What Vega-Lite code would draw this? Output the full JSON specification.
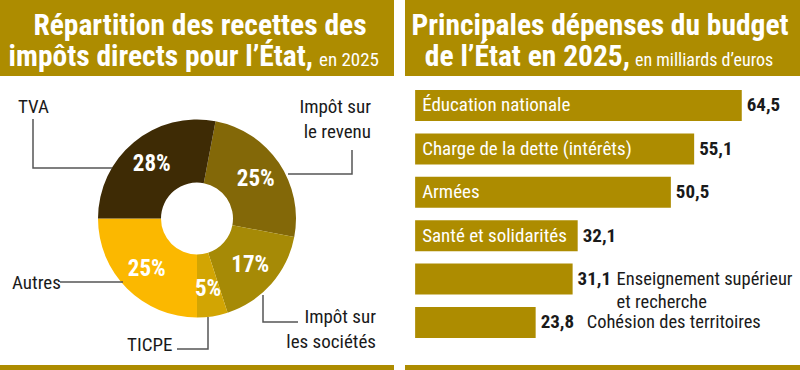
{
  "$schema": "https://vega.github.io/schema/vega-lite/v6.json",
  "padding": 0,
  "background": "white",
  "spacing": 11,
  "config": {
    "view": {"stroke": null},
    "font": "'Roboto Condensed', Roboto, sans-serif",
    "locale": {"number": {"decimal": ",", "thousands": " ", "grouping": [3], "currency": ["", " €"]}},
    "concat": {"spacing": 0}
  },
  "datasets": {
    "impots": [
      {"impot": "Impôt sur le revenu", "part": 0.25, "rang": 1},
      {"impot": "Impôt sur les sociétés", "part": 0.17, "rang": 2},
      {"impot": "TICPE", "part": 0.05, "rang": 3},
      {"impot": "Autres", "part": 0.25, "rang": 4},
      {"impot": "TVA", "part": 0.28, "rang": 5}
    ],
    "reperes": [
      {"impot": "TVA", "point": 1, "px": 33, "py": 43},
      {"impot": "TVA", "point": 2, "px": 33, "py": 92},
      {"impot": "TVA", "point": 3, "px": 112, "py": 92},
      {"impot": "Impôt sur le revenu", "point": 1, "px": 352, "py": 74},
      {"impot": "Impôt sur le revenu", "point": 2, "px": 352, "py": 98},
      {"impot": "Impôt sur le revenu", "point": 3, "px": 288, "py": 98},
      {"impot": "Impôt sur les sociétés", "point": 1, "px": 263, "py": 219},
      {"impot": "Impôt sur les sociétés", "point": 2, "px": 263, "py": 246},
      {"impot": "Impôt sur les sociétés", "point": 3, "px": 298, "py": 246},
      {"impot": "TICPE", "point": 1, "px": 208, "py": 241},
      {"impot": "TICPE", "point": 2, "px": 208, "py": 273},
      {"impot": "TICPE", "point": 3, "px": 177, "py": 273},
      {"impot": "Autres", "point": 1, "px": 60, "py": 206},
      {"impot": "Autres", "point": 2, "px": 123, "py": 206}
    ],
    "etiquettes_gauche": [
      {"texte": "TVA", "px": 18, "py": 37},
      {"texte": "Autres", "px": 12, "py": 213},
      {"texte": "TICPE", "px": 127, "py": 275}
    ],
    "etiquettes_droite": [
      {"texte": "Impôt sur\nle revenu", "px": 371, "py": 37},
      {"texte": "Impôt sur\nles sociétés", "px": 376, "py": 247}
    ],
    "depenses": [
      {"poste": "Éducation nationale", "montant": 64.5},
      {"poste": "Charge de la dette (intérêts)", "montant": 55.1},
      {"poste": "Armées", "montant": 50.5},
      {"poste": "Santé et solidarités", "montant": 32.1},
      {"poste": "Enseignement supérieur\net recherche", "montant": 31.1},
      {"poste": "Cohésion des territoires", "montant": 23.8}
    ]
  },
  "hconcat": [
    {
      "spacing": 0,
      "vconcat": [
        {
          "width": 394, "height": 76,
          "view": {"fill": "#ad8c00", "stroke": null},
          "data": {"values": [{}]},
          "layer": [
            {"mark": {"type": "text", "text": "Répartition des recettes des", "align": "center", "baseline": "alphabetic", "dx": 3, "dy": -3, "fontSize": 29.5, "fontWeight": "bold", "color": "white"}, "encoding": {}},
            {"mark": {"type": "text", "text": "impôts directs pour l’État,", "align": "right", "baseline": "alphabetic", "dx": 116, "dy": 28, "fontSize": 29.5, "fontWeight": "bold", "color": "white"}, "encoding": {}},
            {"mark": {"type": "text", "text": "en 2025", "align": "left", "baseline": "alphabetic", "dx": 122, "dy": 28, "fontSize": 19, "color": "white"}, "encoding": {}}
          ]
        },
        {
          "width": 394, "height": 285,
          "layer": [
            {
              "data": {"name": "impots"},
              "mark": {"type": "arc", "innerRadius": 36, "outerRadius": 99},
              "encoding": {
                "theta": {"field": "part", "type": "quantitative", "stack": true, "scale": {"range": [0.1885, 6.4717]}},
                "order": {"field": "rang", "type": "quantitative"},
                "color": {"field": "impot", "type": "nominal", "legend": null,
                  "scale": {"domain": ["Impôt sur le revenu", "Impôt sur les sociétés", "TICPE", "Autres", "TVA"],
                            "range": ["#836808", "#a68a06", "#d2a503", "#fbb800", "#3e2b05"]}}
              }
            },
            {
              "data": {"name": "impots"},
              "mark": {"type": "text", "radius": 71, "color": "white", "fontSize": 23, "fontWeight": "bold"},
              "encoding": {
                "theta": {"field": "part", "type": "quantitative", "stack": true},
                "order": {"field": "rang", "type": "quantitative"},
                "text": {"field": "part", "type": "quantitative", "format": ".0%"}
              }
            },
            {
              "data": {"name": "reperes"},
              "mark": {"type": "line", "color": "#555555", "strokeWidth": 1.5},
              "encoding": {
                "x": {"field": "px", "type": "quantitative", "scale": {"domain": [0, 394], "nice": false, "zero": false}, "axis": null},
                "y": {"field": "py", "type": "quantitative", "scale": {"domain": [0, 285], "nice": false, "zero": false, "reverse": true}, "axis": null},
                "detail": {"field": "impot", "type": "nominal"},
                "order": {"field": "point", "type": "quantitative"}
              }
            },
            {
              "data": {"name": "etiquettes_gauche"},
              "mark": {"type": "text", "align": "left", "baseline": "alphabetic", "fontSize": 19, "color": "#1a1a1a", "lineBreak": "\n", "lineHeight": 25},
              "encoding": {
                "x": {"field": "px", "type": "quantitative"},
                "y": {"field": "py", "type": "quantitative"},
                "text": {"field": "texte"}
              }
            },
            {
              "data": {"name": "etiquettes_droite"},
              "mark": {"type": "text", "align": "right", "baseline": "alphabetic", "fontSize": 19, "color": "#1a1a1a", "lineBreak": "\n", "lineHeight": 25},
              "encoding": {
                "x": {"field": "px", "type": "quantitative"},
                "y": {"field": "py", "type": "quantitative"},
                "text": {"field": "texte"}
              }
            }
          ]
        },
        {
          "width": 394, "height": 5,
          "view": {"fill": "#ad8c00", "stroke": null},
          "data": {"values": [{}]},
          "mark": {"type": "text", "text": ""},
          "encoding": {}
        }
      ]
    },
    {
      "spacing": 0,
      "vconcat": [
        {
          "width": 395, "height": 76,
          "view": {"fill": "#ad8c00", "stroke": null},
          "data": {"values": [{}]},
          "layer": [
            {"mark": {"type": "text", "text": "Principales dépenses du budget", "align": "center", "baseline": "alphabetic", "dx": -2.5, "dy": -3, "fontSize": 29.5, "fontWeight": "bold", "color": "white"}, "encoding": {}},
            {"mark": {"type": "text", "text": "de l’État en 2025,", "align": "right", "baseline": "alphabetic", "dx": 27.5, "dy": 28, "fontSize": 29.5, "fontWeight": "bold", "color": "white"}, "encoding": {}},
            {"mark": {"type": "text", "text": "en milliards d’euros", "align": "left", "baseline": "alphabetic", "dx": 32.5, "dy": 28, "fontSize": 18, "color": "white"}, "encoding": {}}
          ]
        },
        {
          "width": 395, "height": 285,
          "data": {"name": "depenses"},
          "encoding": {
            "y": {"field": "poste", "type": "nominal", "sort": null, "axis": null,
                  "scale": {"paddingInner": 0.286, "paddingOuter": 0.4265, "align": 0.378}}
          },
          "layer": [
            {
              "mark": {"type": "bar", "color": "#ad8c00"},
              "encoding": {
                "x": {"field": "montant", "type": "quantitative", "axis": null, "scale": {"domain": [-2, 76], "nice": false, "zero": false}}
              }
            },
            {
              "transform": [{"filter": "datum.montant >= 32"}],
              "mark": {"type": "text", "align": "left", "baseline": "middle", "dx": 7, "fontSize": 19, "color": "white"},
              "encoding": {
                "x": {"datum": 0, "type": "quantitative"},
                "text": {"field": "poste"}
              }
            },
            {
              "mark": {"type": "text", "align": "left", "baseline": "middle", "dx": 5, "fontSize": 19, "fontWeight": "bold", "color": "#1a1a1a"},
              "encoding": {
                "x": {"field": "montant", "type": "quantitative"},
                "text": {"field": "montant", "type": "quantitative", "format": ".1f"}
              }
            },
            {
              "transform": [{"filter": "datum.montant < 32 && datum.montant > 30"}],
              "mark": {"type": "text", "align": "left", "baseline": "middle", "dx": 44, "fontSize": 18.5, "color": "#1a1a1a", "lineBreak": "\n", "lineHeight": 23},
              "encoding": {
                "x": {"field": "montant", "type": "quantitative"},
                "text": {"field": "poste"}
              }
            },
            {
              "transform": [{"filter": "datum.montant < 30"}],
              "mark": {"type": "text", "align": "left", "baseline": "middle", "dx": 51, "fontSize": 18.5, "color": "#1a1a1a"},
              "encoding": {
                "x": {"field": "montant", "type": "quantitative"},
                "text": {"field": "poste"}
              }
            }
          ]
        },
        {
          "width": 395, "height": 5,
          "view": {"fill": "#ad8c00", "stroke": null},
          "data": {"values": [{}]},
          "mark": {"type": "text", "text": ""},
          "encoding": {}
        }
      ]
    }
  ]
}
